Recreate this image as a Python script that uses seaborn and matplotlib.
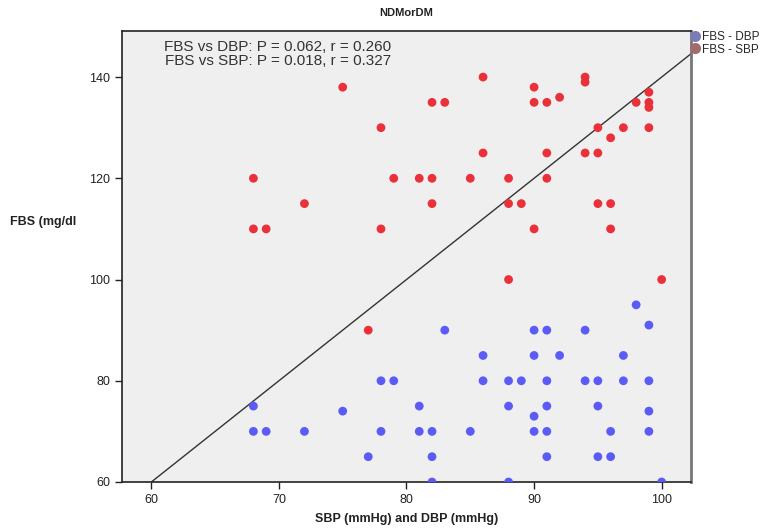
import matplotlib
matplotlib.use("Agg")
import matplotlib.pyplot as plt
from matplotlib.lines import Line2D
import seaborn as sns
import pandas as pd
import numpy as np

# FBS - DBP (blue)
dbp_x = [68, 68, 69, 72, 75, 77, 78, 79, 78, 81, 81, 82, 82, 82, 83, 85, 86, 86, 88, 89,
         88, 88, 90, 91, 90, 92, 91, 91, 90, 90, 91, 91, 94, 94, 95, 95, 95, 96, 96, 97,
         97, 98, 99, 99, 99, 99, 100]
dbp_y = [75, 70, 70, 70, 74, 65, 80, 80, 70, 75, 70, 70, 65, 60, 90, 70, 85, 80, 80, 80,
         75, 60, 90, 90, 85, 85, 80, 75, 73, 70, 70, 65, 90, 80, 80, 75, 65, 65, 70, 85,
         80, 95, 91, 80, 74, 70, 60]

# FBS - SBP (red)
sbp_x = [68, 68, 69, 72, 75, 77, 78, 78, 79, 81, 82, 82, 82, 83, 85, 86, 86, 88, 88, 88,
         89, 90, 90, 90, 91, 91, 91, 92, 94, 94, 94, 95, 95, 95, 96, 96, 96, 97, 98, 99,
         99, 99, 99, 100]
sbp_y = [120, 110, 110, 115, 138, 90, 130, 110, 120, 120, 120, 115, 135, 135, 120, 140, 125, 120, 115, 100,
         115, 138, 135, 110, 135, 125, 120, 136, 140, 139, 125, 130, 125, 115, 128, 115, 110, 130, 135, 137,
         135, 134, 130, 100]

series_names = ["FBS - DBP", "FBS - SBP"]
point_colors = ["#5b5bf5", "#ea3038"]
legend_colors = ["#7c7cb4", "#a06c6c"]
stat_lines = ["FBS vs DBP: P = 0.062, r = 0.260", "FBS vs SBP: P = 0.018, r = 0.327"]

# reference line (from chart)
ref_x = [60, 102.3]
ref_y = [60, 144.6]

df = pd.DataFrame({
    "x": dbp_x + sbp_x,
    "y": dbp_y + sbp_y,
    "series": [series_names[0]] * len(dbp_x) + [series_names[1]] * len(sbp_x),
})

sns.set_style("ticks")
plt.rcParams["font.family"] = ["Liberation Sans", "DejaVu Sans"]

fig = plt.figure(figsize=(7.77, 5.31), dpi=100)
ax = fig.add_axes([122 / 777, 1 - 482 / 531, (691 - 122) / 777, (482 - 31) / 531])
ax.set_facecolor("#efefef")

sns.lineplot(x=ref_x, y=ref_y, ax=ax, color="#333333", linewidth=1.0, zorder=1)
sns.scatterplot(data=df, x="x", y="y", hue="series", palette=dict(zip(series_names, point_colors)),
                s=40, edgecolor="none", ax=ax, legend=False, zorder=3)

ax.set_xlim(57.7, 102.3)
ax.set_ylim(60, 149.1)
ax.set_xticks([60, 70, 80, 90, 100])
ax.set_yticks([60, 80, 100, 120, 140])
ax.tick_params(axis="both", direction="out", length=5, width=1, labelsize=9, colors="#222222")
for sp in ax.spines.values():
    sp.set_visible(True)
    sp.set_color("#222222")
    sp.set_linewidth(1.2)
ax.spines["right"].set_color("#777777")
ax.spines["right"].set_linewidth(2)

ax.set_xlabel("SBP (mmHg) and DBP (mmHg)", fontsize=9, fontweight="bold", labelpad=5, color="#222222")
ax.set_ylabel("")
fig.text(10 / 777, 1 - 222 / 531, "FBS (mg/dl", fontsize=9, fontweight="bold", color="#222222",
         va="center", ha="left")
ax.set_title("NDMorDM", fontsize=8, fontweight="bold", pad=11, color="#222222")

for line, base_px in zip(stat_lines, [51, 65]):
    fig.text(278 / 777, 1 - base_px / 531, line, fontsize=11, ha="center", va="baseline",
             color="#333333")

handles = [Line2D([0], [0], marker="o", linestyle="none", markersize=8, markerfacecolor=c,
                  markeredgecolor="none") for c in legend_colors]
fig.legend(handles, series_names, loc="upper left", bbox_to_anchor=(689 / 777, 1 - 31 / 531),
           frameon=False, fontsize=8.5, handletextpad=0.1, labelspacing=0.05, borderaxespad=0,
           borderpad=0, handlelength=1.0)

fig.savefig("out.png", dpi=100)
